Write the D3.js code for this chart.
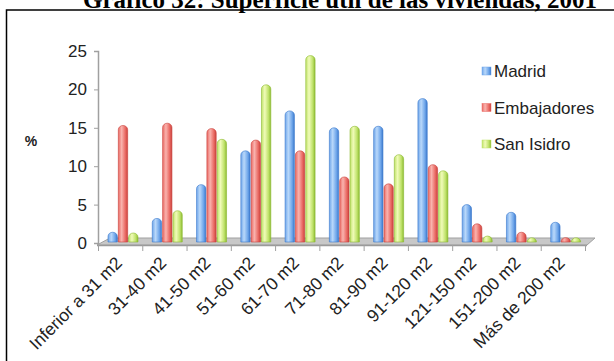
<!DOCTYPE html>
<html>
<head>
<meta charset="utf-8">
<script src="https://cdn.jsdelivr.net/npm/d3@7"></script>
<style>
  body { margin: 0; background: #fff; }
  text { font-family: "Liberation Sans", Arial, sans-serif; }
</style>
</head>
<body>
<svg id="chart" width="614" height="361"></svg>
<script>
const categories = ["Inferior a 31 m2", "31-40 m2", "41-50 m2", "51-60 m2", "61-70 m2", "71-80 m2",
  "81-90 m2", "91-120 m2", "121-150 m2", "151-200 m2", "Más de 200 m2"];
const seriesNames = ["Madrid", "Embajadores", "San Isidro"];
const madrid = [1.2, 3.0, 7.4, 11.8, 17.0, 14.8, 15.0, 18.6, 4.8, 3.8, 2.5];
const embajadores = [15.1, 15.4, 14.7, 13.2, 11.8, 8.4, 7.5, 10.0, 2.3, 1.2, 0.5];
const sanIsidro = [1.1, 4.0, 13.3, 20.4, 24.2, 15.0, 11.3, 9.2, 0.7, 0.3, 0.2];
const yTicks = [0, 5, 10, 15, 20, 25];

const series = [madrid, embajadores, sanIsidro];
const colors = [
  { light: "#b9d8fa", mid: "#6fa6ea", dark: "#3b78cc" },
  { light: "#f9b3ae", mid: "#ea6a64", dark: "#c9423d" },
  { light: "#f0fbb8", mid: "#bfe26a", dark: "#8dbb32" }
];

const svg = d3.select("#chart");
const defs = svg.append("defs");

colors.forEach((c, i) => {
  const g = defs.append("linearGradient")
    .attr("id", "grad" + i)
    .attr("x1", "0%").attr("x2", "100%")
    .attr("y1", "0%").attr("y2", "0%");
  g.append("stop").attr("offset", "0%").attr("stop-color", c.mid);
  g.append("stop").attr("offset", "35%").attr("stop-color", c.light);
  g.append("stop").attr("offset", "75%").attr("stop-color", c.mid);
  g.append("stop").attr("offset", "100%").attr("stop-color", c.dark);
});

// frame (left and top only) and title
svg.append("path")
  .attr("d", "M6.5,361 L6.5,10 L614,10")
  .attr("fill", "none")
  .attr("stroke", "#000")
  .attr("stroke-width", 1.5);

svg.append("text")
  .attr("x", 340)
  .attr("y", 8)
  .attr("text-anchor", "middle")
  .style("font-family", "'Liberation Serif', 'Times New Roman', serif")
  .style("font-weight", "bold")
  .style("font-size", "25px")
  .text("Gráfico 32: Superficie útil de las viviendas, 2001");

const x = d3.scaleBand()
  .domain(categories)
  .range([98, 585]);

const xInner = d3.scaleBand()
  .domain(seriesNames)
  .range([10, 41]);

const y = d3.scaleLinear()
  .domain([0, 25])
  .range([243, 51]);

// floor
svg.append("path")
  .attr("d", "M97,245 L110,238 L595,238 L587,245 Z")
  .attr("fill", "#c8c8c8")
  .attr("stroke", "#a0a0a0")
  .attr("stroke-width", 1);
svg.append("line")
  .attr("x1", 97).attr("x2", 587)
  .attr("y1", 245.5).attr("y2", 245.5)
  .attr("stroke", "#9a9a9a")
  .attr("stroke-width", 1.5);

// category ticks
svg.append("g")
  .selectAll("line")
  .data(categories.concat(["end"]))
  .join("line")
  .attr("x1", (d, i) => i < categories.length ? x(d) + 0.5 : x.range()[1] + 0.5)
  .attr("x2", (d, i) => i < categories.length ? x(d) + 0.5 : x.range()[1] + 0.5)
  .attr("y1", 245)
  .attr("y2", 251)
  .attr("stroke", "#a0a0a0");

// y axis
const yAxis = svg.append("g")
  .attr("transform", "translate(98,0)")
  .call(d3.axisLeft(y).tickValues(yTicks).tickSize(4).tickPadding(7));
yAxis.select(".domain").attr("stroke", "#a0a0a0").attr("stroke-width", 1.5);
yAxis.selectAll(".tick line").attr("stroke", "#a0a0a0");
yAxis.selectAll(".tick text")
  .attr("fill", "#222")
  .style("font-size", "17px")
  .style("font-family", "'Liberation Sans', Arial, sans-serif");

svg.append("text")
  .attr("x", 31)
  .attr("y", 146)
  .attr("text-anchor", "middle")
  .attr("fill", "#222")
  .style("font-size", "14px")
  .style("font-weight", "bold")
  .text("%");

// bars: cylinders with rounded tops
function barPath(x0, w, yTop, yBase) {
  const r = w / 2;
  const top = Math.min(yTop + r, yBase);
  return `M${x0},${yBase} L${x0},${top} A${r},${r * 0.9} 0 0 1 ${x0 + w},${top} L${x0 + w},${yBase} Z`;
}

const groups = svg.append("g")
  .selectAll("g")
  .data(categories)
  .join("g")
  .attr("transform", d => `translate(${x(d)},0)`);

groups.selectAll("path")
  .data((d, i) => series.map((s, j) => ({ name: seriesNames[j], value: s[i], j })))
  .join("path")
  .attr("d", d => barPath(xInner(d.name), xInner.bandwidth() - 1, y(d.value) - 2, 242))
  .attr("fill", d => `url(#grad${d.j})`)
  .attr("stroke", d => colors[d.j].dark)
  .attr("stroke-width", 0.6);

// x labels
svg.append("g")
  .selectAll("text")
  .data(categories)
  .join("text")
  .attr("transform", d => `translate(${x(d) + x.bandwidth() / 2 + 3},264) rotate(-45)`)
  .attr("text-anchor", "end")
  .attr("fill", "#222")
  .style("font-size", "17.5px")
  .text(d => d);

// legend
const legend = svg.append("g")
  .selectAll("g")
  .data(seriesNames)
  .join("g")
  .attr("transform", (d, i) => `translate(482,${71 + i * 36.5})`);

legend.append("rect")
  .attr("x", 0).attr("y", -4)
  .attr("width", 9).attr("height", 8)
  .attr("fill", (d, i) => `url(#grad${i})`)
  .attr("stroke", (d, i) => colors[i].mid)
  .attr("stroke-width", 0.5);

legend.append("text")
  .attr("x", 12)
  .attr("y", 6)
  .attr("fill", "#222")
  .style("font-size", "17px")
  .text(d => d);
</script>
</body>
</html>
